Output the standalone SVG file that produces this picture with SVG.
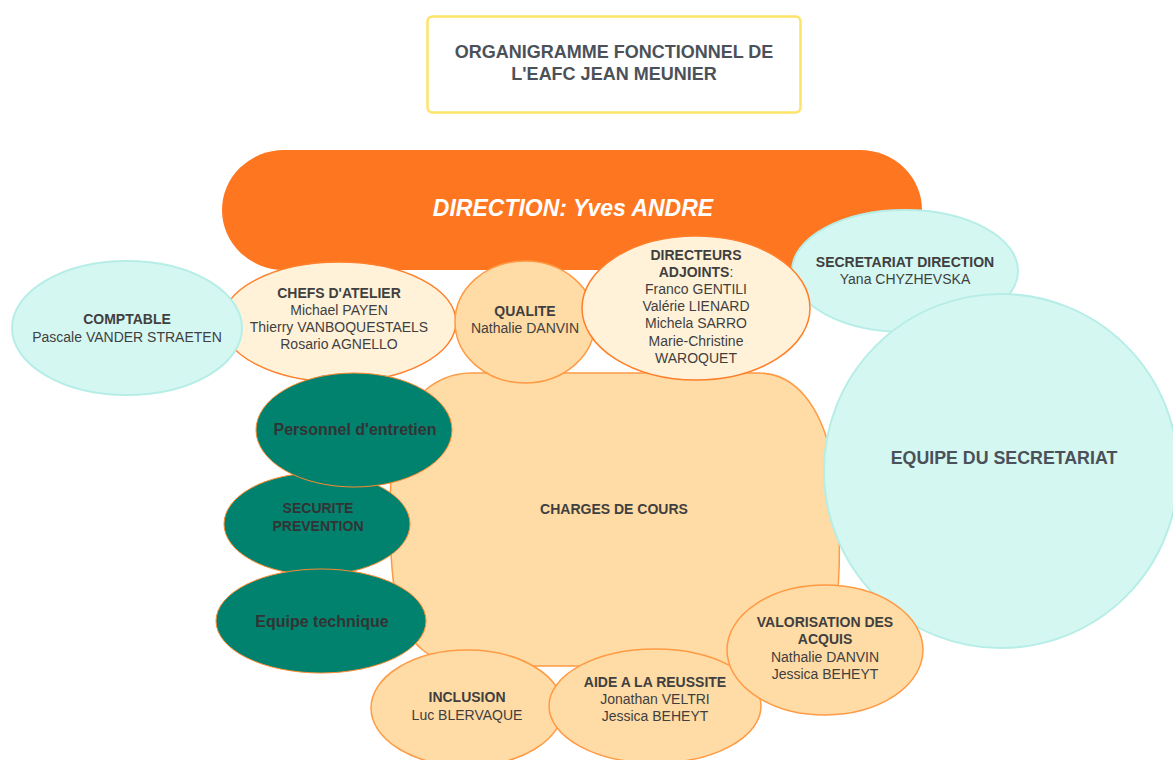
<svg xmlns="http://www.w3.org/2000/svg" width="1173" height="760" viewBox="0 0 1173 760">
<style>
text{font-family:"Liberation Sans",Arial,sans-serif;text-anchor:middle;fill:#3f3f3f;font-size:14px}
.b{font-weight:bold}
.cyan{fill:#d5f7f2;stroke:#b6eee7;stroke-width:2}
.cream{fill:#fff2d9;stroke:#ff7f2a;stroke-width:1.5}
.peach{fill:#ffdba5;stroke:#ff9a45;stroke-width:1.5}
.teal{fill:#00826f;stroke:#ff8a30;stroke-width:1}
.tl{font-weight:bold;fill:#333;font-size:16px}
.ttl{font-weight:bold;fill:#4b5159;font-size:18px}
</style>
<rect width="1173" height="760" fill="#ffffff"/>
<g id="title">
<rect x="427.5" y="16.5" width="373" height="96" rx="5" fill="#ffffff" stroke="#fde367" stroke-width="2.5"/>
<text x="614" y="58" class="ttl">ORGANIGRAMME FONCTIONNEL DE</text>
<text x="614" y="80" class="ttl">L'EAFC JEAN MEUNIER</text>
</g>
<g id="connectors"></g>
<g id="direction">
<rect x="222" y="150" width="700" height="120" rx="62" ry="60" fill="#ff7620"/>
<text x="573" y="216" class="b" style="font-size:23px;font-style:italic;fill:#ffffff">DIRECTION: Yves ANDRE</text>
</g>
<g id="charges">
<path class="peach" d="M472,373 L758,373 C798,373 820,410 830,450 C840,500 842,560 836,610 C830,650 800,666 760,666 L470,666 C432,666 406,642 398,610 C389,570 388,500 393,455 C399,410 428,373 472,373 Z"/>
<text x="614" y="514" class="b">CHARGES DE COURS</text>
</g>
<g id="chefs">
<ellipse class="cream" cx="339" cy="322" rx="117" ry="60"/>
<text x="339" y="298" class="b">CHEFS D'ATELIER</text>
<text x="339" y="315">Michael PAYEN</text>
<text x="339" y="332">Thierry VANBOQUESTAELS</text>
<text x="339" y="349">Rosario AGNELLO</text>
</g>
<g id="comptable">
<ellipse class="cyan" cx="127" cy="328" rx="115" ry="67"/>
<text x="127" y="324" class="b">COMPTABLE</text>
<text x="127" y="342">Pascale VANDER STRAETEN</text>
</g>
<g id="qualite">
<ellipse class="peach" cx="525" cy="322" rx="70" ry="61"/>
<text x="525" y="316" class="b">QUALITE</text>
<text x="525" y="333">Nathalie DANVIN</text>
</g>
<g id="secdir">
<ellipse class="cyan" cx="905" cy="271" rx="113" ry="61"/>
<text x="905" y="267" class="b">SECRETARIAT DIRECTION</text>
<text x="905" y="284">Yana CHYZHEVSKA</text>
</g>
<g id="adjoints">
<ellipse class="cream" cx="696" cy="308" rx="114" ry="72"/>
<text x="696" y="260" class="b">DIRECTEURS</text>
<text x="696" y="277"><tspan class="b">ADJOINTS</tspan>:</text>
<text x="696" y="294">Franco GENTILI</text>
<text x="696" y="311">Valérie LIENARD</text>
<text x="696" y="328">Michela SARRO</text>
<text x="696" y="346">Marie-Christine</text>
<text x="696" y="363">WAROQUET</text>
</g>
<g id="securite">
<ellipse class="teal" cx="317" cy="524" rx="93" ry="51"/>
<text x="318" y="513" class="b" style="fill:#333">SECURITE</text>
<text x="318" y="531" class="b" style="fill:#333">PREVENTION</text>
</g>
<g id="entretien">
<ellipse class="teal" cx="354" cy="430" rx="98" ry="57"/>
<text x="355" y="435" class="tl">Personnel d'entretien</text>
</g>
<g id="technique">
<ellipse class="teal" cx="321" cy="621" rx="105" ry="52"/>
<text x="322" y="627" class="tl">Equipe technique</text>
</g>
<g id="equipe">
<circle class="cyan" cx="1001" cy="471" r="177"/>
<text x="1004" y="464" class="b" style="font-size:17.8px;fill:#4b5159">EQUIPE DU SECRETARIAT</text>
</g>
<g id="inclusion">
<ellipse class="peach" cx="467" cy="708" rx="96" ry="58"/>
<text x="467" y="702" class="b">INCLUSION</text>
<text x="467" y="720">Luc BLERVAQUE</text>
</g>
<g id="aide">
<ellipse class="peach" cx="655" cy="706" rx="106" ry="57"/>
<text x="655" y="687" class="b">AIDE A LA REUSSITE</text>
<text x="655" y="704">Jonathan VELTRI</text>
<text x="655" y="721">Jessica BEHEYT</text>
</g>
<g id="valorisation">
<ellipse class="peach" cx="825" cy="650" rx="98" ry="65"/>
<text x="825" y="627" class="b">VALORISATION DES</text>
<text x="825" y="644" class="b">ACQUIS</text>
<text x="825" y="662">Nathalie DANVIN</text>
<text x="825" y="679">Jessica BEHEYT</text>
</g>
</svg>
